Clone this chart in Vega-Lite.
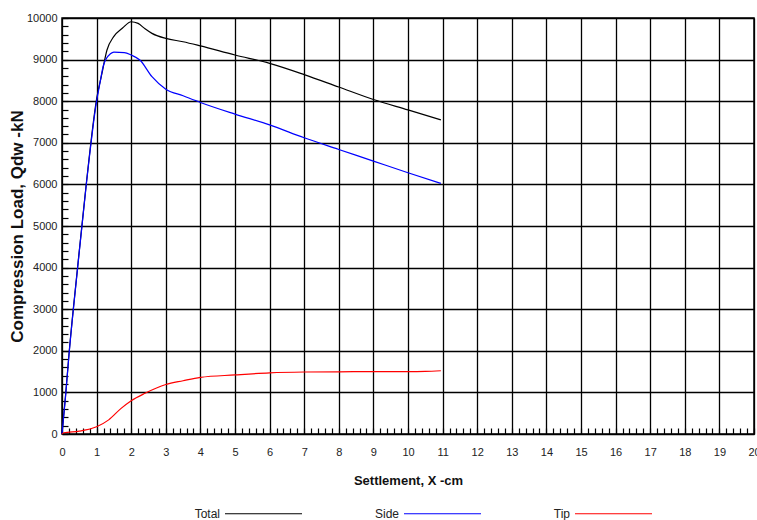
{
  "$schema": "https://vega.github.io/schema/vega-lite/v6.json",
  "width": 692,
  "height": 416,
  "autosize": "none",
  "padding": {"left": 62, "top": 18, "right": 3, "bottom": 86},
  "background": "white",
  "config": {
    "view": {"stroke": "#000", "strokeWidth": 1.5},
    "font": "Liberation Sans"
  },
  "data": {
    "values": [
      {"series": "Total", "x": 0, "y": 0},
      {"series": "Total", "x": 0.1, "y": 900},
      {"series": "Total", "x": 0.2, "y": 1900},
      {"series": "Total", "x": 0.45, "y": 4000},
      {"series": "Total", "x": 0.7, "y": 6000},
      {"series": "Total", "x": 1.0, "y": 8050},
      {"series": "Total", "x": 1.15, "y": 8650},
      {"series": "Total", "x": 1.3, "y": 9230},
      {"series": "Total", "x": 1.5, "y": 9560},
      {"series": "Total", "x": 1.75, "y": 9760},
      {"series": "Total", "x": 2.0, "y": 9910},
      {"series": "Total", "x": 2.2, "y": 9870},
      {"series": "Total", "x": 2.4, "y": 9740},
      {"series": "Total", "x": 2.6, "y": 9630},
      {"series": "Total", "x": 3.0, "y": 9510},
      {"series": "Total", "x": 3.5, "y": 9430},
      {"series": "Total", "x": 4.0, "y": 9330},
      {"series": "Total", "x": 5.0, "y": 9110},
      {"series": "Total", "x": 6.0, "y": 8910},
      {"series": "Total", "x": 7.0, "y": 8640},
      {"series": "Total", "x": 8.0, "y": 8340},
      {"series": "Total", "x": 9.0, "y": 8040},
      {"series": "Total", "x": 10.0, "y": 7790},
      {"series": "Total", "x": 10.95, "y": 7550},
      {"series": "Side", "x": 0, "y": 0},
      {"series": "Side", "x": 0.1, "y": 880},
      {"series": "Side", "x": 0.2, "y": 1880},
      {"series": "Side", "x": 0.45, "y": 3980},
      {"series": "Side", "x": 0.7, "y": 5980},
      {"series": "Side", "x": 1.0, "y": 8000},
      {"series": "Side", "x": 1.1, "y": 8450},
      {"series": "Side", "x": 1.2, "y": 8870},
      {"series": "Side", "x": 1.4, "y": 9140},
      {"series": "Side", "x": 1.5, "y": 9180},
      {"series": "Side", "x": 1.8, "y": 9170},
      {"series": "Side", "x": 2.0, "y": 9110},
      {"series": "Side", "x": 2.25, "y": 8990},
      {"series": "Side", "x": 2.6, "y": 8590},
      {"series": "Side", "x": 3.0, "y": 8290},
      {"series": "Side", "x": 3.5, "y": 8130},
      {"series": "Side", "x": 4.0, "y": 7970},
      {"series": "Side", "x": 5.0, "y": 7690},
      {"series": "Side", "x": 6.0, "y": 7430},
      {"series": "Side", "x": 7.0, "y": 7120},
      {"series": "Side", "x": 8.0, "y": 6840},
      {"series": "Side", "x": 9.0, "y": 6560},
      {"series": "Side", "x": 10.0, "y": 6280},
      {"series": "Side", "x": 10.95, "y": 6025},
      {"series": "Tip", "x": 0, "y": 0},
      {"series": "Tip", "x": 0.05, "y": 30},
      {"series": "Tip", "x": 0.5, "y": 70},
      {"series": "Tip", "x": 1.0, "y": 175},
      {"series": "Tip", "x": 1.35, "y": 340},
      {"series": "Tip", "x": 1.7, "y": 610},
      {"series": "Tip", "x": 2.0, "y": 800},
      {"series": "Tip", "x": 2.4, "y": 980},
      {"series": "Tip", "x": 3.0, "y": 1190},
      {"series": "Tip", "x": 3.5, "y": 1280},
      {"series": "Tip", "x": 4.0, "y": 1360},
      {"series": "Tip", "x": 5.0, "y": 1420},
      {"series": "Tip", "x": 6.0, "y": 1470},
      {"series": "Tip", "x": 7.0, "y": 1490},
      {"series": "Tip", "x": 8.0, "y": 1495},
      {"series": "Tip", "x": 9.0, "y": 1500},
      {"series": "Tip", "x": 10.0, "y": 1500},
      {"series": "Tip", "x": 10.5, "y": 1505},
      {"series": "Tip", "x": 10.95, "y": 1520}
    ]
  },
  "layer": [
    {
      "mark": {"type": "line", "strokeWidth": 1.2, "interpolate": "monotone"},
      "encoding": {
        "x": {
          "field": "x", "type": "quantitative",
          "scale": {"domain": [0, 20], "nice": false, "zero": false},
          "axis": {
            "orient": "bottom", "tickCount": 20, "grid": true, "gridColor": "#000", "gridWidth": 1.3,
            "ticks": false, "domain": false, "labelPadding": 12, "labelFlush": false, "labelOverlap": false,
            "labelFont": "'Liberation Sans Narrow', 'Arial Narrow', 'Liberation Sans'", "labelFontSize": 11, "labelColor": "#222",
            "title": "Settlement, X -cm", "titleFont": "Liberation Sans", "titleFontWeight": "bold", "titleFontSize": 13,
            "titleColor": "#111", "titlePadding": 17
          }
        },
        "y": {
          "field": "y", "type": "quantitative",
          "scale": {"domain": [0, 10000], "nice": false},
          "axis": {
            "orient": "left", "tickCount": 10, "format": "d", "grid": true, "gridColor": "#000", "gridWidth": 1.3,
            "ticks": false, "domain": false, "labelPadding": 5, "labelFlush": false, "labelOverlap": false,
            "labelFont": "'Liberation Sans Narrow', 'Arial Narrow', 'Liberation Sans'", "labelFontSize": 11, "labelColor": "#222",
            "title": "Compression Load,  Qdw -kN", "titleFont": "Liberation Sans", "titleFontWeight": "bold", "titleFontSize": 17,
            "titleColor": "#111", "titlePadding": 0
          }
        },
        "color": {
          "field": "series", "type": "nominal",
          "scale": {"domain": ["Total", "Side", "Tip"], "range": ["#000000", "#0000ff", "#ff0000"]},
          "legend": {
            "orient": "none", "legendX": 162, "legendY": 456, "direction": "horizontal", "title": null,
            "symbolType": "stroke", "symbolSize": 5929, "symbolStrokeWidth": 1.2,
            "labelAlign": "right", "labelOffset": -83, "labelFont": "Liberation Sans", "labelFontSize": 12,
            "labelColor": "#222", "columnPadding": 69
          }
        }
      }
    },
    {
      "mark": {"type": "line", "opacity": 0},
      "encoding": {
        "x": {
          "field": "x", "type": "quantitative",
          "scale": {"domain": [0, 20], "nice": false, "zero": false},
          "axis": {
            "orient": "bottom", "tickCount": 100, "grid": false, "labels": false, "domain": false,
            "ticks": true, "tickSize": -6, "tickColor": "#000", "tickWidth": 1.2, "title": null
          }
        },
        "y": {
          "field": "y", "type": "quantitative",
          "scale": {"domain": [0, 10000], "nice": false},
          "axis": {
            "orient": "left", "tickCount": 50, "grid": false, "labels": false, "domain": false,
            "ticks": true, "tickSize": -6, "tickColor": "#000", "tickWidth": 1.2, "title": null
          }
        },
        "detail": {"field": "series", "type": "nominal"}
      }
    }
  ],
  "resolve": {"axis": {"x": "independent", "y": "independent"}}
}
